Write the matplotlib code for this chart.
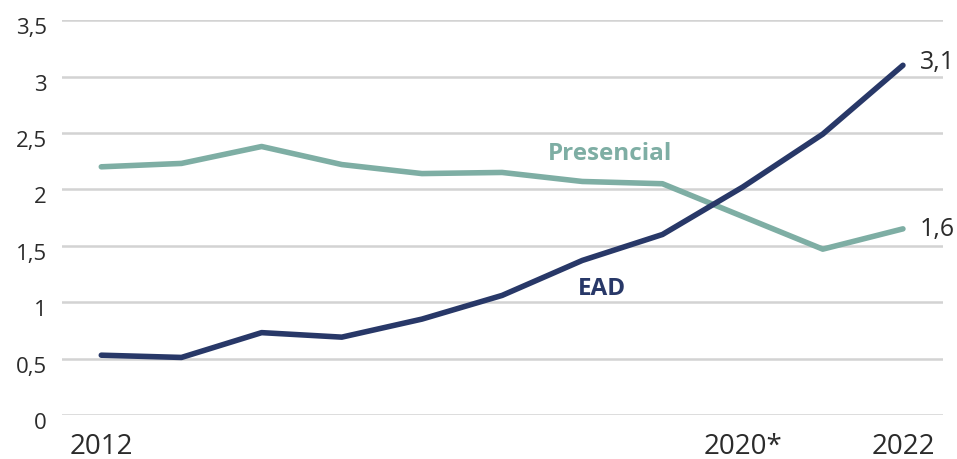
import matplotlib
matplotlib.use("Agg")
import matplotlib.pyplot as plt
import matplotlib.transforms as mtransforms
from matplotlib.ticker import FuncFormatter

years = [2012, 2013, 2014, 2015, 2016, 2017, 2018, 2019, 2020, 2021, 2022]
presencial = [2.20, 2.23, 2.38, 2.22, 2.14, 2.15, 2.07, 2.05, 1.76, 1.47, 1.65]
ead = [0.53, 0.51, 0.73, 0.69, 0.85, 1.06, 1.37, 1.60, 2.02, 2.49, 3.10]
xtick_years = [2012, 2020, 2022]
xtick_labels = ["2012", "2020*", "2022"]
yticks = [0, 0.5, 1, 1.5, 2, 2.5, 3, 3.5]

teal = "#7eaea4"
navy = "#283868"
text_color = "#2b2b2b"

plt.rcParams["font.family"] = ["Open Sans", "DejaVu Sans"]

fig = plt.figure(figsize=(9.57, 4.6), dpi=100)
ax = fig.add_axes([0.0648, 0.0957, 0.9206, 0.8583])

for y in yticks:
    ax.axhline(y, color="#d3d3d3", lw=1.8, zorder=1)

ax.plot(years, presencial, color=teal, lw=4, solid_capstyle="round",
        solid_joinstyle="round", zorder=3, clip_on=False)
ax.plot(years, ead, color=navy, lw=4, solid_capstyle="round",
        solid_joinstyle="round", zorder=4, clip_on=False)

ax.set_xlim(2011.51, 2022.5)
ax.set_ylim(0, 3.5)

ax.set_yticks(yticks)
ax.yaxis.set_major_formatter(FuncFormatter(
    lambda v, p: (f"{v:g}").replace(".", ",")))
ax.set_xticks(xtick_years)
ax.set_xticklabels(xtick_labels)
ax.tick_params(axis="y", length=0, pad=11, labelsize=16, labelcolor=text_color)
ax.tick_params(axis="x", length=0, pad=12, labelsize=20, labelcolor=text_color)
for s in ax.spines.values():
    s.set_visible(False)

# y labels sit a little below their gridlines in the original
shift = mtransforms.ScaledTranslation(0, -5 / 100, fig.dpi_scale_trans)
for lbl in ax.get_yticklabels():
    lbl.set_transform(lbl.get_transform() + shift)

# series labels
ax.text(2018.35, 2.32, "Presencial", color=teal, fontsize=17.5, fontweight="bold",
        ha="center", va="center")
ax.text(2018.25, 1.13, "EAD", color=navy, fontsize=17.5, fontweight="bold",
        ha="center", va="center")

# end values
ax.annotate((f"{ead[-1]:.1f}").replace(".", ","), (years[-1], ead[-1]),
            xytext=(12, 3), textcoords="offset points", fontsize=18,
            color=text_color, va="center", ha="left", annotation_clip=False)
ax.annotate((f"{presencial[-1]:.1f}").replace(".", ","), (years[-1], presencial[-1]),
            xytext=(12, 0), textcoords="offset points", fontsize=18,
            color=text_color, va="center", ha="left", annotation_clip=False)

fig.savefig("out.png", dpi=100, facecolor="white")
